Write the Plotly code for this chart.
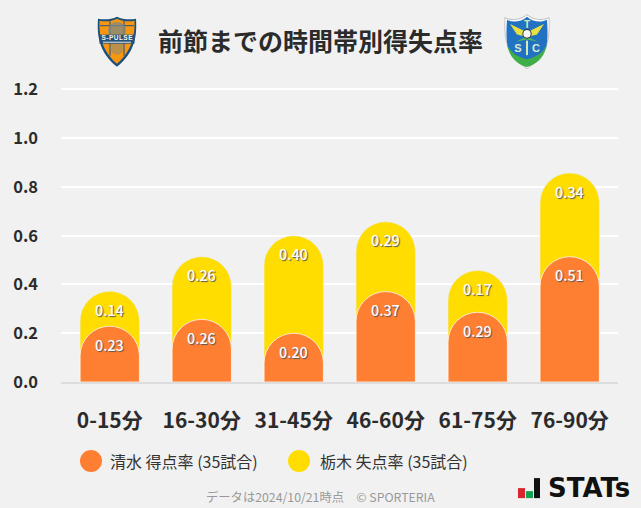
import base64
import plotly.graph_objects as go

categories = ["0-15分", "16-30分", "31-45分", "46-60分", "61-75分", "76-90分"]
scored = [0.229, 0.257, 0.200, 0.371, 0.286, 0.514]
conceded = [0.143, 0.257, 0.400, 0.286, 0.171, 0.343]
y_ticks = [0.0, 0.2, 0.4, 0.6, 0.8, 1.0, 1.2]
scored_name = "清水 得点率 (35試合)"
conceded_name = "栃木 失点率 (35試合)"
title_text = "前節までの時間帯別得失点率"
footer_text = "データは2024/10/21時点　© SPORTERIA"

W, H = 641, 508
L, R, T, B = 61, 618, 88.3, 382
FONT = "Noto Sans CJK JP"
ORANGE, YELLOW = "#FF7F32", "#FFDD00"
totals = [a + b for a, b in zip(scored, conceded)]


def px(x):
    return (x - L) / (R - L)


def py(y):
    return (B - y) / (B - T)


def uri(svg):
    return "data:image/svg+xml;base64," + base64.b64encode(svg.encode()).decode()


pulse_svg = """<svg xmlns='http://www.w3.org/2000/svg' viewBox='0 0 40 52'>
<path d='M20 1 C26 4 33 4 39 3 C40 18 39 36 20 51 C1 36 0 18 1 3 C7 4 14 4 20 1Z' fill='#1d4f7c'/>
<path d='M20 3 C26 6 33 6 37.500 5 C38 18 36 34 20 48 C4 34 2 18 2.500 5 C7 6 14 6 20 3Z' fill='#F7960F'/>
<path d='M13 5V40M27 5V40M3 10H37' stroke='#4a6070' stroke-width='1.300' fill='none'/>
<circle cx='20' cy='15' r='9' fill='#7d8a86' opacity='.75'/>
<circle cx='20' cy='32' r='7' fill='#7d8a86' opacity='.5'/>
<rect x='2.500' y='19' width='35' height='9' fill='#24527a'/>
<text x='20' y='24.500' font-family='Liberation Sans' font-weight='700' font-size='6.500' fill='#f6f6ea' text-anchor='middle' textLength='31'>S-PULSE</text>
<rect x='6' y='26' width='28' height='1.200' fill='#c9d2d8'/>
</svg>"""

tochigi_svg = """<svg xmlns='http://www.w3.org/2000/svg' viewBox='0 0 46 54'>
<path d='M23 1 C29 6 38 7 45 4 C46 20 46 38 23 53 C0 38 0 20 1 4 C8 7 17 6 23 1Z' fill='#ffffff' stroke='#c4c4c4' stroke-width='1'/>
<path d='M3 30 C10 42 36 42 43 30 C40 44 31 49 23 51.500 C15 49 6 44 3 30Z' fill='#3fae49'/>
<path d='M23 3 C29 8 37 9 43 6 C44 18 43.500 26 42.500 31 C36 41 30 42 23 44 C16 42 10 41 3.500 31 C2.500 26 2 18 3 6 C9 9 17 8 23 3Z' fill='#2272c3'/>
<path d='M23 18 L6 10 L13 20 L21 22Z M23 18 L40 10 L33 20 L25 22Z' fill='#e6e040'/>
<path d='M23 22 L12 27 L23 25 L34 27Z' fill='#4cb85a'/>
<text x='23' y='13.500' font-family='Liberation Sans' font-weight='700' font-size='10' fill='#d5e8b5' text-anchor='middle'>T</text>
<rect x='22' y='26' width='2' height='14' fill='#d5e8b5'/>
<circle cx='23' cy='19.500' r='4.200' fill='#f4f4f4' stroke='#333' stroke-width='1'/>
<text x='14' y='37' font-family='Liberation Sans' font-weight='700' font-size='11' fill='#d8ecd0' text-anchor='middle'>S</text>
<text x='32' y='37' font-family='Liberation Sans' font-weight='700' font-size='11' fill='#d8ecd0' text-anchor='middle'>C</text>
</svg>"""

fig = go.Figure()
fig.add_bar(x=categories, y=totals, name=conceded_name, marker=dict(color=YELLOW, cornerradius="50%"), width=0.645,
            hoverinfo="skip", showlegend=False)
fig.add_bar(x=categories, y=scored, name=scored_name, yaxis="y2",
            marker=dict(color=ORANGE, cornerradius="50%", line=dict(color="rgba(255,255,255,0.75)", width=1)),
            width=0.645, hoverinfo="skip", showlegend=False)

ann = []
for c, s, t, cv in zip(categories, scored, totals, conceded):
    for yv, v in ((t, cv), (s, s)):
        ann.append(dict(x=c, y=yv, yref="y", xref="x", text=f"{v:.2f}", showarrow=False, yshift=-18,
                        font=dict(family=FONT, size=14.3, color="#ffffff", weight=500, shadow="1px 1px 1px #555555")))


def label(x, y, text, size, color, weight=400, anchor="left"):
    ann.append(dict(xref="paper", yref="paper", x=px(x), y=py(y), text=text, showarrow=False, xanchor=anchor,
                    yanchor="middle", font=dict(family=FONT, size=size, color=color, weight=weight)))


label(320.5, 40, title_text, 25, "#2b2b2b", 700, "center")
label(108, 461, scored_name, 16, "#333333")
label(318, 461, conceded_name, 16, "#333333")
label(320.5, 497, footer_text, 12.3, "#999999", 400, "center")
ann.append(dict(xref="paper", yref="paper", x=px(546), y=py(488), text="<b>STATs</b>", showarrow=False,
                xanchor="left", yanchor="middle", font=dict(family="DejaVu Sans", size=26, color="#111111")))


def circle(cx, cy, r, color):
    return dict(type="circle", xref="paper", yref="paper", x0=px(cx - r), x1=px(cx + r), y0=py(cy + r), y1=py(cy - r),
                fillcolor=color, line_width=0, layer="above")


def rect(x0, y0, x1, y1, color):
    return dict(type="rect", xref="paper", yref="paper", x0=px(x0), x1=px(x1), y0=py(y1), y1=py(y0),
                fillcolor=color, line_width=0, layer="above")


shapes = [
    circle(91, 461, 11, ORANGE),
    circle(299, 461, 11, YELLOW),
    rect(518, 488, 525, 498, "#D9262E"),
    rect(526, 491, 533, 498, "#12A150"),
    rect(534, 478, 540, 498, "#111111"),
]

images = [
    dict(source=uri(pulse_svg), xref="paper", yref="paper", x=px(97), y=py(16), sizex=px(137) - px(97),
         sizey=py(16) - py(68), xanchor="left", yanchor="top", sizing="stretch", layer="above"),
    dict(source=uri(tochigi_svg), xref="paper", yref="paper", x=px(504), y=py(14), sizex=px(550) - px(504),
         sizey=py(14) - py(70), xanchor="left", yanchor="top", sizing="stretch", layer="above"),
]

fig.update_layout(
    width=W, height=H, autosize=False,
    margin=dict(l=L, r=W - R, t=T, b=H - B, pad=0),
    paper_bgcolor="#F1F1F1", plot_bgcolor="#F1F1F1",
    barmode="overlay",
    font=dict(family=FONT, color="#2b2b2b"),
    annotations=ann, shapes=shapes, images=images,
    xaxis=dict(type="category", range=[-0.53, 5.525], showgrid=False, showline=True, linecolor="#DDDDDD", linewidth=2,
               ticks="", ticklabelstandoff=19, tickfont=dict(family=FONT, size=21, weight=700, color="#2b2b2b"),
               fixedrange=True),
    yaxis=dict(range=[0, 1.206], tickvals=y_ticks, tickformat=".1f", gridcolor="#FFFFFF", gridwidth=2, zeroline=False,
               ticks="", ticklabelstandoff=22, tickfont=dict(family=FONT, size=16.5, weight=700, color="#2b2b2b"),
               fixedrange=True),
    yaxis2=dict(range=[0, 1.206], overlaying="y", visible=False, fixedrange=True),
)

fig.write_html("out.html", post_script="document.body.style.margin='0';", config={"displayModeBar": False})
